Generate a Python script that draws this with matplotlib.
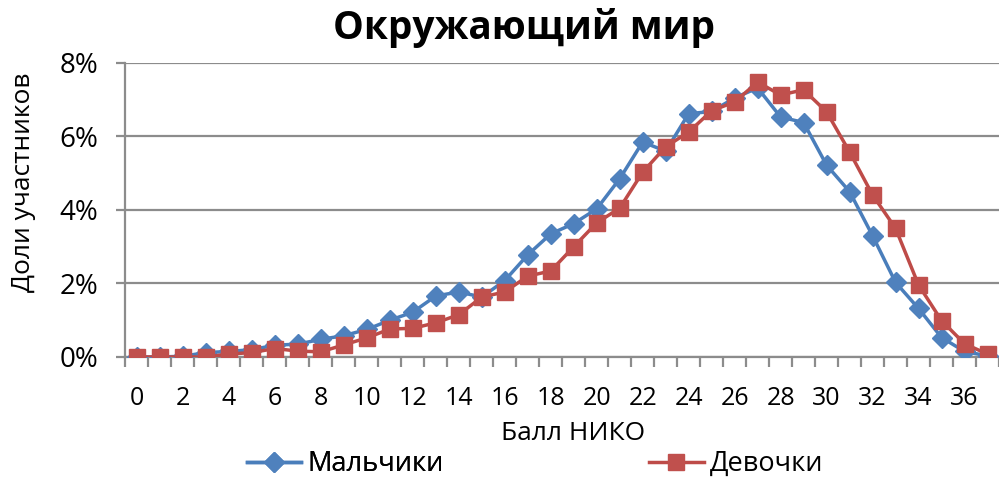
import matplotlib
matplotlib.use("Agg")
import matplotlib.pyplot as plt
from matplotlib.ticker import PercentFormatter, FixedLocator, NullFormatter

# data (share of participants, %)
scores = list(range(38))
boys = [0, 0, 0.02, 0.12, 0.15, 0.2, 0.32, 0.35, 0.48, 0.58, 0.75, 1.0, 1.22,
        1.66, 1.77, 1.63, 2.08, 2.78, 3.35, 3.63, 4.03, 4.85, 5.85, 5.6, 6.62,
        6.68, 7.05, 7.32, 6.53, 6.38, 5.22, 4.5, 3.3, 2.03, 1.32, 0.53, 0.15, 0.03]
girls = [0, 0, 0, 0, 0.08, 0.12, 0.23, 0.16, 0.14, 0.33, 0.52, 0.76, 0.78,
         0.93, 1.15, 1.63, 1.77, 2.2, 2.34, 3.0, 3.65, 4.05, 5.03, 5.72, 6.12,
         6.7, 6.94, 7.48, 7.13, 7.27, 6.67, 5.58, 4.41, 3.5, 1.96, 0.99, 0.36, 0.08]
yticks = [0, 2, 4, 6, 8]
xlabels = [str(s) if s % 2 == 0 else "" for s in scores]

title = "Окружающий мир"
xtitle = "Балл НИКО"
ytitle = "Доли участников"
names = ["Мальчики", "Девочки"]

blue = "#4A7EBB"
red = "#BE4B48"
grid = "#8C8C8C"

plt.rcParams['font.family'] = ['Open Sans', 'DejaVu Sans']

fig = plt.figure(figsize=(9.99, 4.83), dpi=100)
ax = fig.add_axes([0.1256, 0.2609, 0.8744, 0.6087])

l1, = ax.plot(scores, boys, color=blue, lw=2.5, marker="D", ms=10,
              markerfacecolor="#4F81BD", markeredgecolor="#4F81BD", zorder=3)
l2, = ax.plot(scores, girls, color=red, lw=2.5, marker="s", ms=11,
              markerfacecolor="#C0504D", markeredgecolor="#C0504D", zorder=4)

ax.set_xlim(-0.5, 37.5)
ax.set_ylim(0, 8)
ax.set_yticks(yticks)
ax.yaxis.set_major_formatter(PercentFormatter(decimals=0))
ax.grid(axis="y", color=grid, lw=1.6)
ax.set_axisbelow(True)

ax.set_xticks(scores)
ax.set_xticklabels(xlabels)
ax.xaxis.set_minor_locator(FixedLocator([s - 0.5 for s in scores] + [37.5]))
ax.xaxis.set_minor_formatter(NullFormatter())
ax.tick_params(axis="x", which="major", length=0, labelsize=18, pad=21)
ax.tick_params(axis="x", which="minor", length=7, width=1.6, color=grid)
ax.tick_params(axis="y", length=6.5, width=1.6, color=grid, labelsize=20, pad=13)

for side in ["top", "right"]:
    ax.spines[side].set_visible(False)
for side in ["left", "bottom"]:
    ax.spines[side].set_color(grid)
    ax.spines[side].set_linewidth(1.6)

fig.text(0.525, 0.919, title, ha="center", va="baseline", fontsize=28, fontweight="bold")
fig.text(0.574, 0.103, xtitle, ha="center", va="center", fontsize=19)
fig.text(0.024, 0.623, ytitle, ha="center", va="center", rotation=90, fontsize=19)

leg1 = fig.legend([l1], [names[0]], loc="center left", bbox_to_anchor=(0.247, 0.039),
                  frameon=False, fontsize=19.5, handlelength=2.0, handletextpad=0.25,
                  borderpad=0, borderaxespad=0)
leg2 = fig.legend([l2], [names[1]], loc="center left", bbox_to_anchor=(0.650, 0.039),
                  frameon=False, fontsize=19.5, handlelength=2.0, handletextpad=0.25,
                  borderpad=0, borderaxespad=0)
fig.add_artist(leg1)

fig.savefig("out.png", dpi=100)
